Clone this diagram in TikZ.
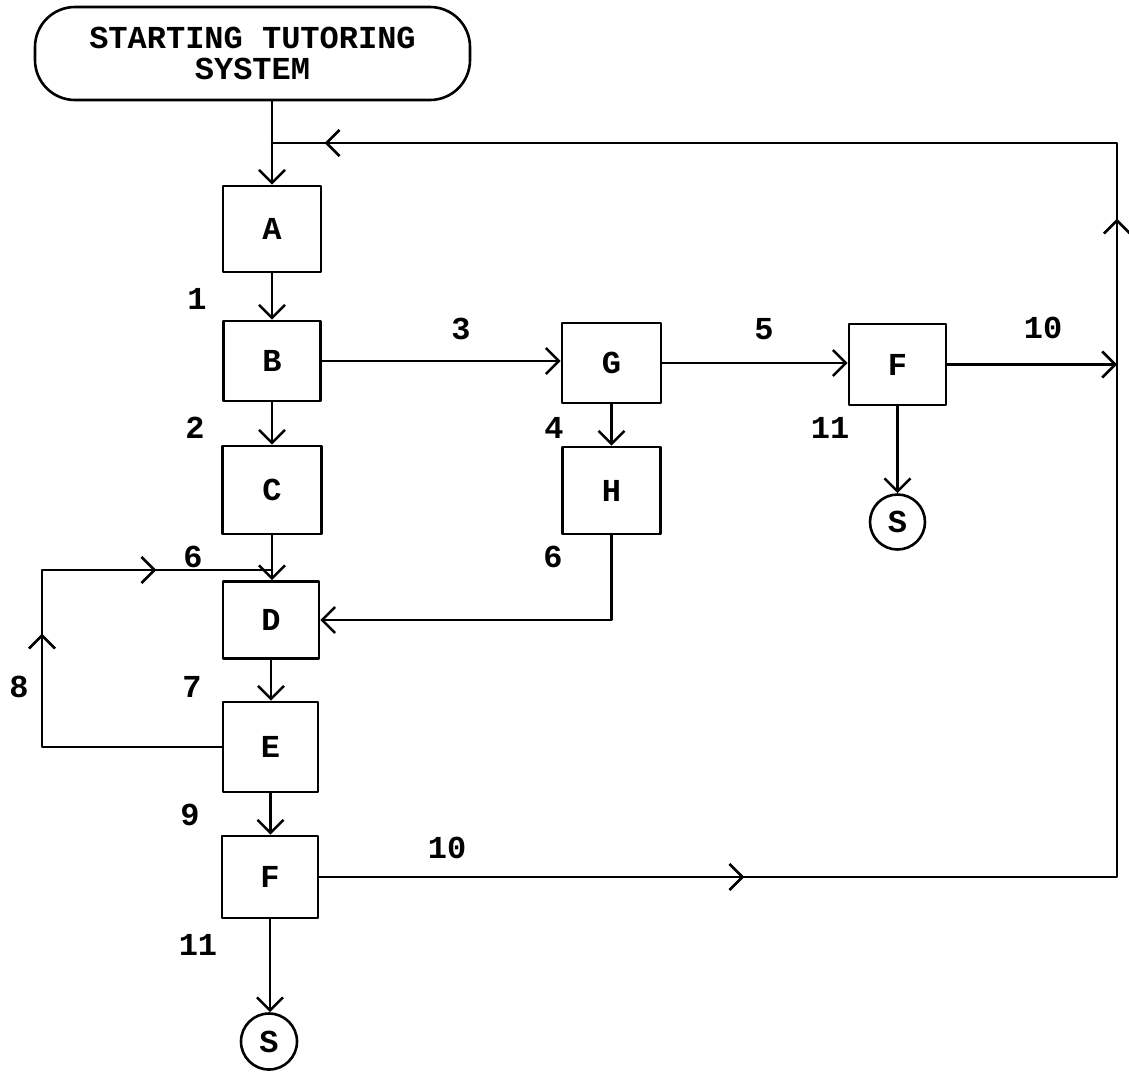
\documentclass[tikz,border=0pt]{standalone}
\usepackage{fontspec}
\newfontfamily\courfont{Liberation Mono}
\usetikzlibrary{arrows.meta,decorations.markings}
\begin{document}
\begin{tikzpicture}[x=1pt,y=-1pt,
  line width=2.6pt, line cap=round, line join=round,
  >={Straight Barb[length=13pt,width=26pt]},
  every node/.style={font=\courfont\bfseries\fontsize{32}{31}\selectfont},
  blk/.style={draw, rectangle, inner sep=0pt},
  term/.style={draw, circle, inner sep=0pt, minimum size=56pt},
  lbl/.style={inner sep=0pt},
  startbox/.style={draw, rectangle, rounded corners=40pt, inner sep=0pt, align=center,
    minimum width=435pt, minimum height=93pt},
  arr/.style={->},
]
\useasboundingbox (0,0) rectangle (1129,1072);

% nodes
\node[startbox] (start) at (252.5,53.5) {STARTING TUTORING\\SYSTEM};
\node[blk, minimum width=98pt, minimum height=86pt] (A) at (272,229) {A};
\node[blk, minimum width=97pt, minimum height=80pt] (B) at (272,361) {B};
\node[blk, minimum width=99pt, minimum height=88pt] (C) at (272,490) {C};
\node[blk, minimum width=96pt, minimum height=77pt] (D) at (271,620) {D};
\node[blk, minimum width=95pt, minimum height=90pt] (E) at (270.5,747) {E};
\node[blk, minimum width=96pt, minimum height=82pt] (F2) at (270,877) {F};
\node[term] (S2) at (269,1041.5) {S};
\node[blk, minimum width=99pt, minimum height=80pt] (G) at (611.5,363) {G};
\node[blk, minimum width=98pt, minimum height=87pt] (H) at (611.5,490.5) {H};
\node[blk, minimum width=97pt, minimum height=81pt] (F1) at (897.5,364.5) {F};
\node[term, minimum size=55pt] (S1) at (897.5,522) {S};

% labels
\node[lbl] (l1) at (197,299) {1};
\node[lbl] (l2) at (195,428) {2};
\node[lbl] (l3) at (461,329) {3};
\node[lbl] (l4) at (554,428) {4};
\node[lbl] (l5) at (764,329) {5};
\node[lbl] (l6a) at (193,557) {6};
\node[lbl] (l6b) at (553,557) {6};
\node[lbl] (l7) at (192,687) {7};
\node[lbl] (l8) at (19,687) {8};
\node[lbl] (l9) at (190,815) {9};
\node[lbl] (l10a) at (1043,328) {10};
\node[lbl] (l10b) at (447,848) {10};
\node[lbl] (l11a) at (830,428) {11};
\node[lbl] (l11b) at (198,945) {11};

% coordinates
\coordinate (rb) at (1117,877);
\coordinate (rt) at (1117,143);
\coordinate (j) at (272,143);
\coordinate (lt) at (42,570);

% connectors
\draw[arr] (start.south -| A.north) -- (A.north);
\draw[arr] (A.south) -- (B.north);
\draw[arr] (B.south) -- (C.north);
\draw[arr] (C.south) -- (C.south |- D.north);
\draw[arr] (D.south) -- (D.south |- E.north);
\draw[arr] (E.south) -- (E.south |- F2.north);
\draw[arr] (F2.south) -- (F2.south |- S2.north);
\draw[arr] (B.east) -- (B.east -| G.west);
\draw[arr] (G.south) -- (H.north);
\draw[arr] (G.east) -- (G.east -| F1.west);
\draw[arr] (F1.south) -- (S1.north);
\draw[arr] (F1.east) -- (F1.east -| rb);
\draw[arr] (H.south) |- (D.east);

% loop E -> D
\draw[postaction={decorate},decoration={markings,
   mark=at position 293pt with {\arrow{>}},
   mark=at position 471pt with {\arrow{>}}}]
  (E.west) -| (lt) -- (lt -| C.south);

% return loop F -> top
\draw[postaction={decorate},decoration={markings,
   mark=at position 425pt with {\arrow{>}},
   mark=at position 1456pt with {\arrow{>}},
   mark=at position 2324pt with {\arrow{>}}}]
  (F2.east) -- (rb) -- (rt) -- (j);
\end{tikzpicture}
\end{document}
